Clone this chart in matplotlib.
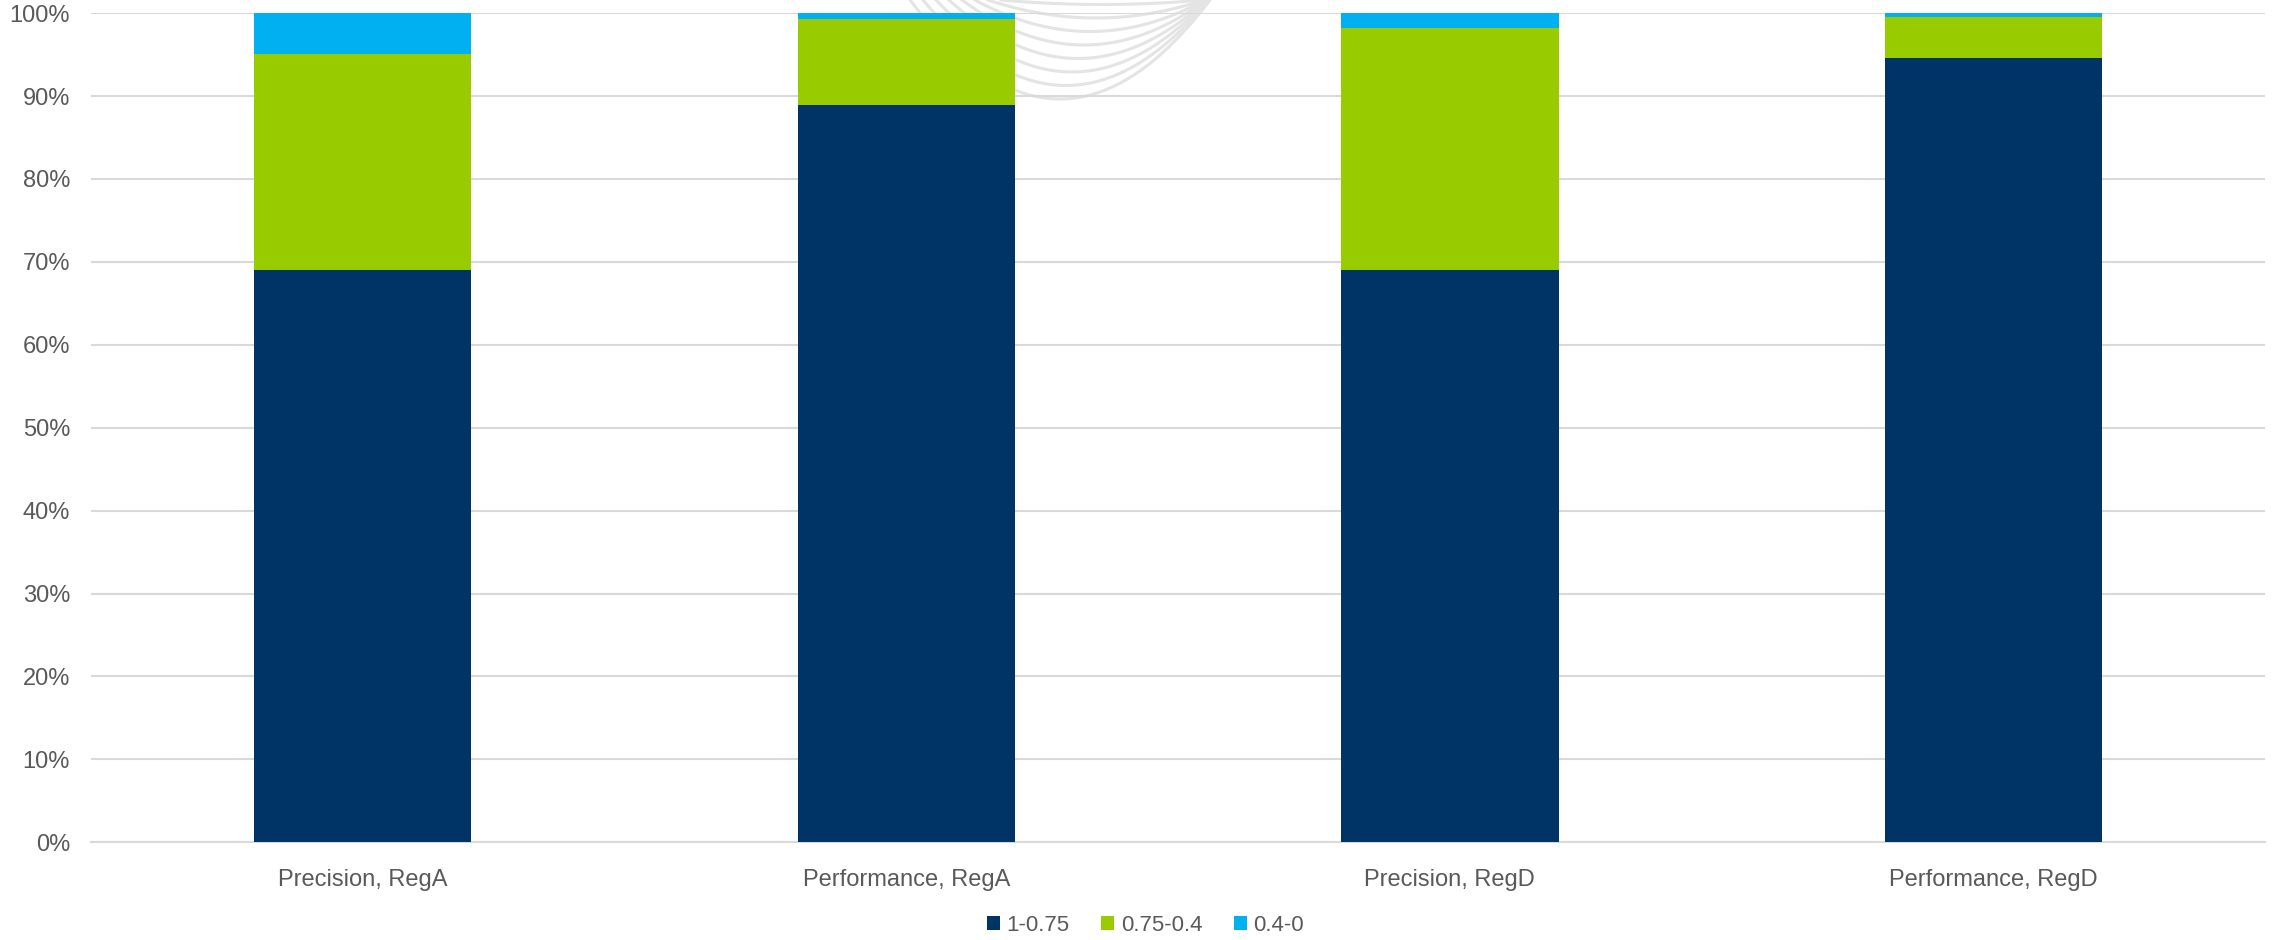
import numpy as np
import matplotlib.pyplot as plt
from matplotlib.ticker import PercentFormatter

plt.rcParams['font.family'] = ['Liberation Sans', 'DejaVu Sans']

categories = ['Precision, RegA', 'Performance, RegA', 'Precision, RegD', 'Performance, RegD']
series_names = ['1-0.75', '0.75-0.4', '0.4-0']
high = [69.0, 88.9, 69.0, 94.6]
mid = [26.1, 10.4, 29.2, 4.95]
low = [4.9, 0.7, 1.8, 0.45]
colors = ['#003366', '#99CC00', '#00B0F0']

W, H = 2272, 940
fig = plt.figure(figsize=(W / 100, H / 100), dpi=100)
ax = fig.add_axes([0.04, 0.104, 0.957, 0.882])

x = np.arange(len(categories))
bottom = np.zeros(len(categories))
for name, vals, c in zip(series_names, [high, mid, low], colors):
    ax.bar(x, vals, 0.4, bottom=bottom, color=c, label=name, zorder=3)
    bottom += np.array(vals)

# faint watermark arcs behind the bars (pixels from top-left)
for i in range(8):
    depth = 99 - i * 13.5
    cx = 1060 + i * 6
    w = 150 - i * 7
    px = np.linspace(cx - w, cx + w, 200)
    py = depth * (1 - ((px - cx) / w) ** 2)
    ax.plot(px / W, 1 - py / H, transform=fig.transFigure, color='#E4E4E4',
            lw=2.2, zorder=1, clip_on=False)

ax.set_xlim(-0.5, len(categories) - 0.5)
ax.set_ylim(0, 100)
ax.set_yticks(np.arange(0, 101, 10))
ax.yaxis.set_major_formatter(PercentFormatter(decimals=0))
ax.set_xticks(x)
ax.set_xticklabels(categories)
ax.grid(axis='y', color='#D9D9D9', linewidth=1.5, zorder=0)
for s in ['top', 'right', 'left']:
    ax.spines[s].set_visible(False)
ax.spines['bottom'].set_color('#D9D9D9')
ax.spines['bottom'].set_linewidth(1.5)
ax.tick_params(length=0, labelsize=17, colors='#595959')
ax.tick_params(axis='x', pad=19)
ax.tick_params(axis='y', pad=15)

ax.legend(loc='lower center', bbox_to_anchor=(0.485, -0.137), ncol=3, frameon=False,
          fontsize=16, labelcolor='#595959', handlelength=0.6, handleheight=0.6,
          handletextpad=0.3, columnspacing=1.4)

fig.savefig('out.png', dpi=100)
